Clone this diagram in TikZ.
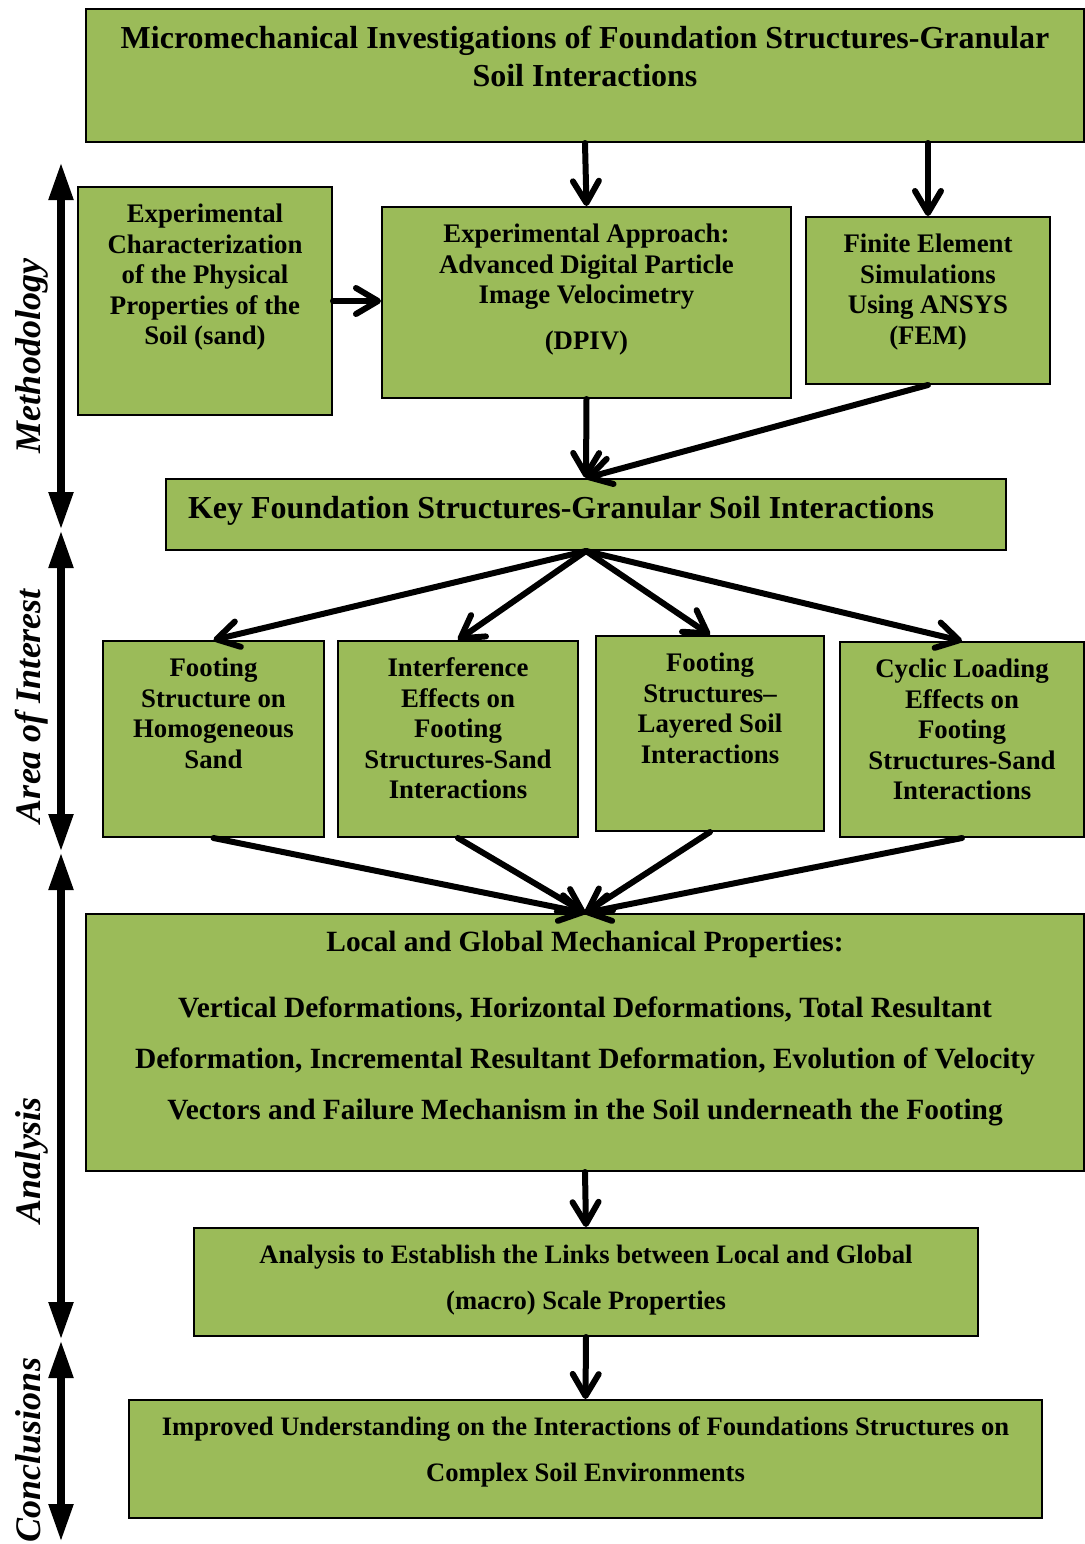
\documentclass[tikz,border=0pt]{standalone}
\usepackage{fontspec}
\setmainfont{Liberation Serif}
\usetikzlibrary{arrows.meta,positioning}
\definecolor{olivebox}{RGB}{155,187,89}
\newcommand{\cell}[3]{\parbox[c][#2][t]{#1}{\centering #3}}

\begin{document}
\begin{tikzpicture}[x=0.5pt,y=-0.5pt,
    blk/.style={draw, line width=1pt, fill=olivebox, inner xsep=0pt, inner ysep=8.5pt,
        anchor=north west, font=\bfseries\fontsize{13.4}{15.25}\selectfont},
    link/.style={line width=3pt, line cap=round, -{Straight Barb[length=11pt,width=13pt,round]}},
    side/.style={line width=4pt, {Triangle[length=19pt,width=11.5pt]}-{Triangle[length=19pt,width=11.5pt]}},
    phase/.style={rotate=90, anchor=base, font=\bfseries\itshape\fontsize{18}{18}\selectfont}]
    \useasboundingbox (0,0) rectangle (1085,1544);
    \node[blk, font=\bfseries\fontsize{16}{19}\selectfont] (title) at (85,8)
        {\cell{499pt}{49.5pt}{Micromechanical Investigations of Foundation Structures-Granular\\Soil Interactions}};
    \node[blk] (exp) at (77,186)
        {\cell{127pt}{97pt}{Experimental\\Characterization\\of the Physical\\Properties of the\\Soil (sand)}};
    \node[blk] (dpiv) at (381,206)
        {\cell{204.5pt}{78.5pt}{Experimental Approach:\\Advanced Digital Particle\\Image Velocimetry\\[7.75pt](DPIV)}};
    \node[blk] (fem) at (805,216)
        {\cell{122pt}{66.5pt}{Finite Element\\Simulations\\Using ANSYS\\(FEM)}};
    \node[blk, font=\bfseries\fontsize{16}{19}\selectfont] (key) at (165,478)
        {\cell{420pt}{18.5pt}{\raggedright\hspace*{11pt}Key Foundation Structures-Granular Soil Interactions}};
    \node[blk] (f1) at (102,640)
        {\cell{110.5pt}{81pt}{Footing\\Structure on\\Homogeneous\\Sand}};
    \node[blk] (f2) at (337,640)
        {\cell{120pt}{81pt}{Interference\\Effects on\\Footing\\Structures-Sand\\Interactions}};
    \node[blk] (f3) at (595,635)
        {\cell{114pt}{80.5pt}{Footing\\Structures--\\Layered Soil\\Interactions}};
    \node[blk] (f4) at (839,641)
        {\cell{122pt}{80.5pt}{Cyclic Loading\\Effects on\\Footing\\Structures-Sand\\Interactions}};
    \node[blk, font=\bfseries\fontsize{14.7}{25.5}\selectfont] (local) at (85,913)
        {\cell{499pt}{111.5pt}{Local and Global Mechanical Properties:\\[7.5pt]Vertical Deformations, Horizontal Deformations, Total Resultant\\Deformation, Incremental Resultant Deformation, Evolution of Velocity\\Vectors and Failure Mechanism in the Soil underneath the Footing}};
    \node[blk, font=\bfseries\fontsize{13.3}{23}\selectfont] (anal) at (193,1227)
        {\cell{392pt}{37pt}{Analysis to Establish the Links between Local and Global\\(macro) Scale Properties}};
    \node[blk, font=\bfseries\fontsize{13.3}{23}\selectfont] (impr) at (128,1399)
        {\cell{456.5pt}{42pt}{Improved Understanding on the Interactions of Foundations Structures on\\Complex Soil Environments}};

    \draw[link] (title.south) -- (dpiv.north);
    \draw[link] (title.south -| fem.north) -- (fem.north);
    \draw[link] (exp.east) -- (exp.east -| dpiv.west);
    \draw[link] (dpiv.south) -- (key.north);
    \draw[link] (fem.south) -- (key.north);
    \foreach \f in {f1,f2,f3,f4} {
        \draw[link] (key.south) -- (\f.north);
        \draw[link] (\f.south) -- (local.north);
    }
    \draw[link] (local.south) -- (anal.north);
    \draw[link] (anal.south) -- (impr.north);

    \coordinate (s0) at (61,162);
    \coordinate (s1) at (61,530);
    \coordinate (s2) at (61,852);
    \coordinate (s3) at (61,1340);
    \coordinate (s4) at (61,1542);
    \draw[side] (s0) -- (s1);
    \draw[side] (s1) -- (s2);
    \draw[side] (s2) -- (s3);
    \draw[side] (s3) -- (s4);
    \node[phase] (methodology) at (40,356) {Methodology};
    \node[phase] (interest) at (40,706) {Area of Interest};
    \node[phase] (analysis) at (40,1160) {Analysis};
    \node[phase] (conclusions) at (40,1450) {Conclusions};
\end{tikzpicture}
\end{document}
